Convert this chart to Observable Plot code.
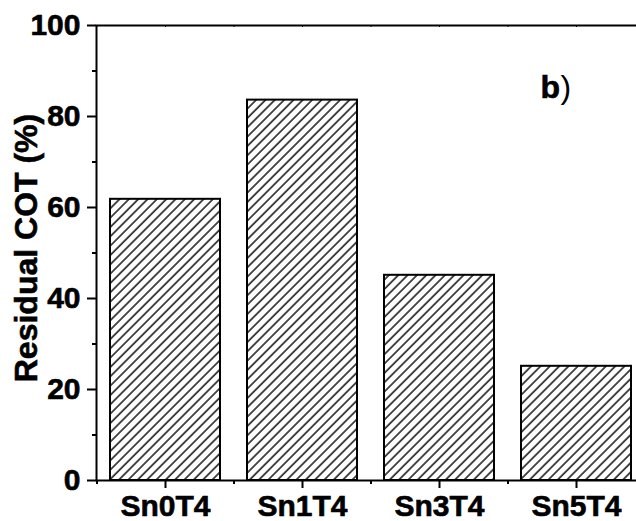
<!DOCTYPE html>
<html>
<head>
<meta charset="utf-8">
<script src="https://cdn.jsdelivr.net/npm/d3@7"></script>
<script src="https://cdn.jsdelivr.net/npm/@observablehq/plot@0.6"></script>
<style>
  html, body { margin: 0; padding: 0; background: white; }
  #chart svg { display: block; }
</style>
</head>
<body>
<div id="chart"></div>
<script>
const categories = ["Sn0T4", "Sn1T4", "Sn3T4", "Sn5T4"];
const values = [61.8, 83.6, 45.1, 25.1];
const yTicks = [0, 20, 40, 60, 80, 100];
const yMinorTicks = [10, 30, 50, 70, 90];
const yLabel = "Residual COT (%)";
const panelLetter = "b";

const data = categories.map((c, i) => ({category: c, value: values[i]}));
const font = "'Liberation Sans', Arial, Helvetica, sans-serif";

const svg = Plot.plot({
  width: 636,
  height: 521,
  marginLeft: 96,
  marginTop: 25,
  marginRight: 0,
  marginBottom: 41,
  style: {fontFamily: font, fontWeight: "bold", fontSize: "30px", background: "white", color: "black"},
  x: {domain: categories, range: [96, 644], paddingInner: 0.2, paddingOuter: 0.1, axis: null},
  y: {domain: [0, 100], axis: null},
  marks: [
    Plot.barY(data, {x: "category", y: "value", fill: "url(#hatch)", stroke: "black", strokeWidth: 2}),
    Plot.frame({stroke: "black", strokeWidth: 2, insetRight: -10}),
    Plot.axisY({ticks: yTicks, tickSize: 9, tickPadding: 7, strokeWidth: 2, fontSize: 30, fontWeight: "bold", label: null}),
    Plot.axisY({ticks: yMinorTicks, tickSize: 4, tickFormat: () => "", strokeWidth: 2, label: null}),
    Plot.axisX({tickSize: 8, tickPadding: 6, strokeWidth: 2, fontSize: 30, fontWeight: "bold", label: null}),
    Plot.ruleX(categories, {x: d => d, y1: 0, y2: 0, insetBottom: -4, dx: -68.5, strokeWidth: 2}),
    Plot.ruleX(categories, {x: d => d, y1: 100, y2: 100, insetBottom: -2, strokeWidth: 1}),
    Plot.ruleX(categories, {x: d => d, y1: 100, y2: 100, insetBottom: -2, dx: -68.5, strokeWidth: 1}),
    Plot.text([yLabel], {text: d => d, frameAnchor: "left", rotate: -90, dx: -60, dy: -5, lineAnchor: "bottom", textAnchor: "middle", fontSize: 32, fontWeight: "bold", fill: "black"}),
    Plot.text([panelLetter], {text: d => d, frameAnchor: "top-left", dx: 444, dy: 72, textAnchor: "start", lineAnchor: "bottom", fontSize: 32, fontWeight: "bold", fill: "black"}),
    Plot.text([")"], {text: d => d, frameAnchor: "top-left", dx: 464, dy: 72, textAnchor: "start", lineAnchor: "bottom", fontSize: 32, fontWeight: "normal", fill: "black"})
  ]
});

// make bold text slightly heavier like the reference
d3.select(svg).selectAll("text").each(function() {
  const t = d3.select(this);
  if (t.text() !== ")") t.attr("stroke", "black").attr("stroke-width", 0.6);
});

const defs = d3.select(svg).insert("defs", ":first-child");
const P = 6.6;
const pat = defs.append("pattern")
  .attr("id", "hatch")
  .attr("patternUnits", "userSpaceOnUse")
  .attr("width", P)
  .attr("height", P)
  .attr("patternTransform", "rotate(45)");
pat.append("rect").attr("width", P).attr("height", P).attr("fill", "white");
pat.append("line").attr("x1", 1).attr("y1", -1).attr("x2", 1).attr("y2", P + 1).attr("stroke", "black").attr("stroke-width", 1.4);

document.getElementById("chart").appendChild(svg);
</script>
</body>
</html>
